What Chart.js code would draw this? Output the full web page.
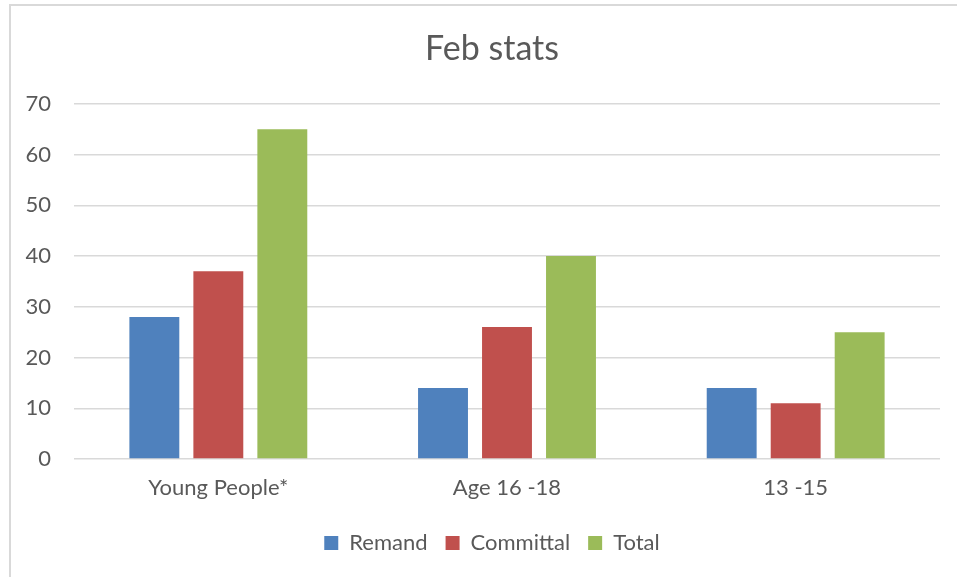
<!DOCTYPE html>
<html>
<head>
<meta charset="utf-8">
<script src="https://cdn.jsdelivr.net/npm/chart.js@4"></script>
<style>
  body { margin: 0; background: #fff; overflow: hidden; }
  .box {
    position: absolute; left: 9px; top: 4px;
    width: 966px; height: 590px;
    border: 2px solid #d9d9d9;
  }
  .wrap { position: absolute; left: 0; top: 0; width: 962px; height: 571px; }
</style>
</head>
<body>
<div class="box"><div class="wrap"><canvas id="myChart"></canvas></div></div>
<script>
const categories = ['Young People*', 'Age 16 -18', '13 -15'];
const remand = [28, 14, 14];
const committal = [37, 26, 11];
const total = [65, 40, 25];
const yTicks = [0, 10, 20, 30, 40, 50, 60, 70];

const textColor = '#595959';
const fontName = 'Lato, "Liberation Sans", sans-serif';

const ctx = document.getElementById('myChart');

let graf = new Chart(ctx, {
    type: 'bar',
    data: {
        labels: categories,
        datasets: [
            { label: 'Remand', data: remand, backgroundColor: '#4F81BD' },
            { label: 'Committal', data: committal, backgroundColor: '#C0504D' },
            { label: 'Total', data: total, backgroundColor: '#9BBB59' }
        ]
    },
    options: {
        responsive: true,
        maintainAspectRatio: false,
        animation: false,
        categoryPercentage: 0.665,
        barPercentage: 0.78,
        layout: { padding: { left: 0, right: 0, top: 0, bottom: 13 } },
        scales: {
            y: {
                min: 0,
                max: 70,
                afterBuildTicks: (scale) => { scale.ticks = yTicks.map(v => ({ value: v })) },
                afterFit: (scale) => { scale.width = 63 },
                border: { display: false },
                grid: { color: '#d9d9d9', lineWidth: 1.5, drawTicks: false },
                ticks: { padding: 23, color: textColor, font: { family: fontName, size: 22 } }
            },
            // empty right side box, so title and legend centre like the original
            spacer: {
                position: 'right',
                display: true,
                afterFit: (scale) => { scale.width = 33 },
                border: { display: false },
                grid: { display: false },
                ticks: { display: false }
            },
            x: {
                afterFit: (scale) => { scale.height = 55 },
                border: { display: false },
                grid: { display: false },
                ticks: { padding: 8, color: textColor, font: { family: fontName, size: 22 } }
            }
        },
        plugins: {
            title: {
                display: true,
                text: 'Feb stats',
                color: textColor,
                font: { family: fontName, size: 34, weight: 'normal' },
                padding: { top: 23, bottom: 34 }
            },
            legend: {
                position: 'bottom',
                labels: {
                    boxWidth: 14,
                    boxHeight: 14,
                    padding: 18,
                    color: textColor,
                    font: { family: fontName, size: 22 }
                }
            },
            tooltip: { enabled: false }
        }
    }
});
</script>
</body>
</html>
